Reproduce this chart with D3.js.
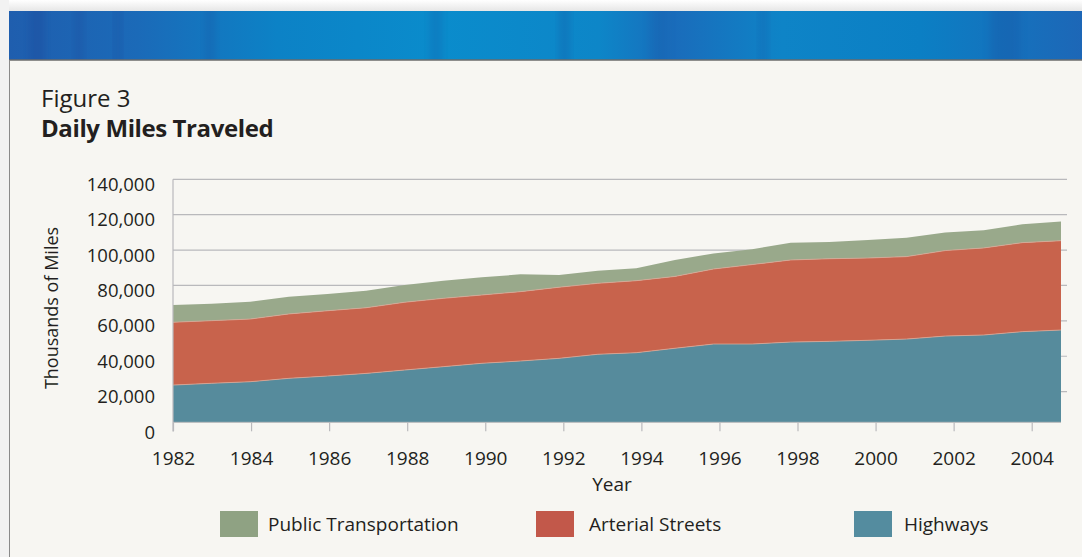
<!DOCTYPE html>
<html lang="en">
<head>
    <meta charset="UTF-8">
    <title>Daily Miles Traveled</title>
    <script src="https://cdn.jsdelivr.net/npm/d3@7"></script>
    <style>
        body{margin:0; background:#fff;}
        svg{display:block;}
        text{font-family:"Open Sans","Noto Sans",sans-serif; fill:#231f20;}
    </style>
</head>
<body>
    <div id="chart"></div>
    <script>
        // data (thousands of miles)
        var years = d3.range(1982, 2006);
        var highways = [23700,24700,25600,27500,28800,30300,32200,34100,36000,37300,38800,41100,
                        42000,44500,46900,46900,48000,48400,49000,49700,51400,52000,53900,54800];
        var arterial = [35500,35400,35400,36400,36900,37100,38300,38600,38600,39200,40200,40100,
                        40700,40600,42400,44900,46400,46700,46500,46600,48300,49200,50300,50500];
        var publicTr = [9800,9600,9800,9700,9500,9600,9800,10000,10000,9800,6900,7100,
                        7000,9300,8800,8700,9800,9500,10200,10700,10300,10000,10400,10800];
        var seriesNames = ['Highways','Arterial Streets','Public Transportation'];
        var areaColors = ['#568b9c','#c8634c','#99a98b'];
        var legendColors = ['#548c9f','#c2584a','#8fa283'];
        var yTicks = [0,20000,40000,60000,80000,100000,120000,140000];
        var xTicks = d3.range(1982, 2005, 2);

        function draw(){
            var width = 1082, height = 557;
            var left = 173, right = 1067, plotTop = 179.3, zeroY = 427, baseY = 422.3;

            var svg = d3.select('#chart').append('svg')
                .attr('width', width).attr('height', height);

            // page / banner
            var defs = svg.append('defs');
            var shade = defs.append('linearGradient').attr('id','shade')
                .attr('x1',0).attr('y1',0).attr('x2',0).attr('y2',1);
            shade.append('stop').attr('offset','0%').attr('stop-color','#ffffff');
            shade.append('stop').attr('offset','100%').attr('stop-color','#e4e4e4');
            var blue = defs.append('linearGradient').attr('id','banner');
            [['0%','#1f5eae'],['12%','#1b6ab8'],['25%','#0c82c6'],['40%','#0a8ccc'],['55%','#0d86c8'],
             ['62%','#1a6cbb'],['72%','#0e84c7'],['85%','#0b7fc4'],['100%','#1d67b7']].forEach(function(s){
                blue.append('stop').attr('offset',s[0]).attr('stop-color',s[1]);
            });
            defs.append('filter').attr('id','soft').attr('x','-50%').attr('width','200%')
                .append('feGaussianBlur').attr('stdDeviation','4 0');
            defs.append('clipPath').attr('id','bannerClip').append('rect')
                .attr('x',9).attr('y',11).attr('width',width-9).attr('height',49);

            svg.append('rect').attr('x',0).attr('y',0).attr('width',width).attr('height',12).attr('fill','url(#shade)');
            svg.append('rect').attr('x',0).attr('y',0).attr('width',9).attr('height',height).attr('fill','#f2f2f2');
            svg.append('rect').attr('x',9).attr('y',11).attr('width',width-9).attr('height',49).attr('fill','url(#banner)');
            // a few darker streaks in the banner
            var streaks = [[30,14,0.3],[75,8,0.25],[115,6,0.3],[205,10,0.2],[430,12,0.2],[560,9,0.25],[650,18,0.15],[760,7,0.2],[990,30,0.2]];
            svg.append('g').attr('clip-path','url(#bannerClip)').selectAll('rect').data(streaks).enter().append('rect')
                .attr('x',function(d){return d[0];}).attr('y',11)
                .attr('width',function(d){return d[1];}).attr('height',49)
                .attr('fill','#1b3f93').attr('opacity',function(d){return d[2];})
                .attr('filter','url(#soft)');
            svg.append('rect').attr('x',9).attr('y',60).attr('width',width-9).attr('height',height-60).attr('fill','#f7f6f2');
            svg.append('line').attr('x1',9).attr('y1',60).attr('x2',width).attr('y2',60).attr('stroke','#6b6b6b').attr('stroke-width',1.5);
            svg.append('line').attr('x1',9.5).attr('y1',60).attr('x2',9.5).attr('y2',height).attr('stroke','#8a8a8a').attr('stroke-width',1);

            // titles
            svg.append('text').attr('x',41).attr('y',107).text('Figure 3')
                .style('font-size','24px').style('font-weight',400);
            svg.append('text').attr('x',41).attr('y',137).text('Daily Miles Traveled')
                .style('font-size','24px').style('font-weight','bold').style('letter-spacing','-0.4px');

            // scales
            var xData = d3.scaleLinear().domain([1982, 2005]).range([left, 1061]);
            var xAxisScale = d3.scaleLinear().domain([1982, 2004]).range([left, 1031.7]);
            var y = d3.scaleLinear().domain([0, 140000]).range([zeroY, plotTop]);

            // gridlines
            svg.append('g').selectAll('line').data(yTicks.filter(function(d){return d>0;})).enter().append('line')
                .attr('x1',left).attr('x2',right)
                .attr('y1',function(d){return y(d);}).attr('y2',function(d){return y(d);})
                .attr('stroke','#b9b9bc').attr('stroke-width',1.2);

            // stacked areas
            var rows = years.map(function(yr,i){
                return {year:yr, 'Highways':highways[i], 'Arterial Streets':arterial[i], 'Public Transportation':publicTr[i]};
            });
            var stacked = d3.stack().keys(seriesNames)(rows);
            var area = d3.area()
                .x(function(d){return xData(d.data.year);})
                .y0(function(d){return Math.min(y(d[0]), baseY);})
                .y1(function(d){return y(d[1]);});
            var topLine = d3.line()
                .x(function(d){return xData(d.data.year);})
                .y(function(d){return y(d[1]);});
            svg.append('g').selectAll('path').data(stacked).enter().append('path')
                .attr('d', area)
                .attr('fill', function(d,i){return areaColors[i];});
            svg.append('g').selectAll('path').data(stacked.slice(0,2)).enter().append('path')
                .attr('d', topLine)
                .attr('fill','none').attr('stroke','#dba796').attr('stroke-width',0.8);

            // axes
            svg.append('line').attr('x1',left).attr('x2',left).attr('y1',plotTop).attr('y2',431.5)
                .attr('stroke','#b9b9bc').attr('stroke-width',1.2);
            svg.append('line').attr('x1',left).attr('x2',1061).attr('y1',baseY).attr('y2',baseY)
                .attr('stroke','#b9b9bc').attr('stroke-width',1);
            var xAxis = d3.axisBottom(xAxisScale).tickValues(xTicks).tickFormat(d3.format('d'))
                .tickSize(9).tickPadding(20);
            var gx = svg.append('g').attr('transform','translate(0,'+baseY+')').call(xAxis);
            gx.select('.domain').remove();
            gx.selectAll('.tick line').attr('stroke','#b9b9bc').attr('stroke-width',1.2);
            gx.selectAll('.tick text').style('font-size','19px').attr('fill','#231f20').attr('font-family',null);

            var yAxis = d3.axisLeft(y).tickValues(yTicks).tickFormat(d3.format(',')).tickSize(0).tickPadding(18);
            var gy = svg.append('g').attr('transform','translate('+left+',0)').call(yAxis);
            gy.select('.domain').remove();
            gy.selectAll('.tick text').style('font-size','18.5px').attr('fill','#231f20').attr('dy','0.6em').attr('font-family',null);

            svg.append('text').attr('x',612).attr('y',491).attr('text-anchor','middle')
                .style('font-size','19px').text('Year');
            svg.append('text').attr('transform','translate(58,308) rotate(-90)').attr('text-anchor','middle')
                .style('font-size','18px').text('Thousands of Miles');

            // legend
            var legendItems = [
                {name:'Public Transportation', color:legendColors[2], x:220, tx:48},
                {name:'Arterial Streets', color:legendColors[1], x:536, tx:53},
                {name:'Highways', color:legendColors[0], x:854, tx:50}
            ];
            var lg = svg.append('g').selectAll('g').data(legendItems).enter().append('g')
                .attr('transform',function(d){return 'translate('+d.x+',511)';});
            lg.append('rect').attr('width',38).attr('height',26).attr('fill',function(d){return d.color;});
            lg.append('text').attr('x',function(d){return d.tx;}).attr('y',20)
                .style('font-size','19px').text(function(d){return d.name;});
        }
        draw();
    </script>
</body>
</html>
